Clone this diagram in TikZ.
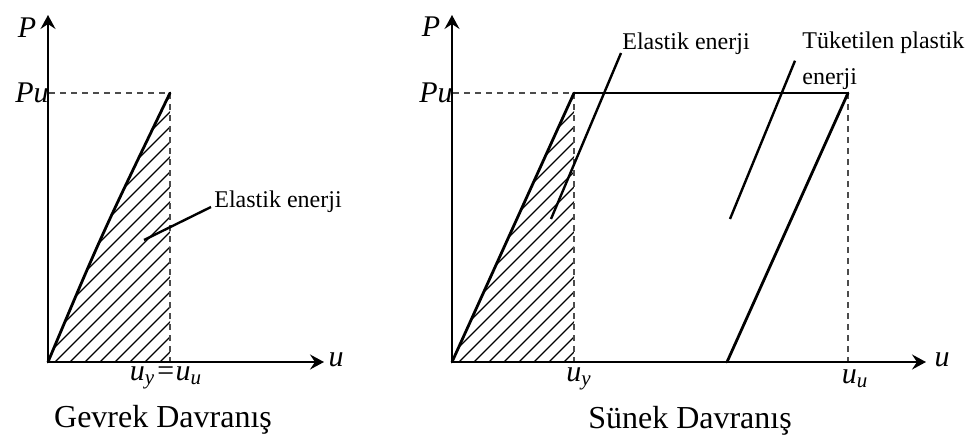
\documentclass[tikz,border=0pt]{standalone}
\usepackage{fontspec}
\setmainfont{Liberation Serif}
\usetikzlibrary{arrows.meta,positioning,calc}
\tikzset{
  axisln/.style={-{Stealth[length=7pt,width=7.5pt,inset=2.5pt]}, line width=1.4pt},
  loadln/.style={line width=1.4pt, line cap=round, line join=round},
  flatln/.style={line width=0.8pt},
  guideln/.style={dash pattern=on 3pt off 2.5pt, line width=0.6pt, black!70},
  hatchln/.style={line width=0.65pt},
  leaderln/.style={line width=1.2pt},
  lbl/.style={font=\fontsize{12}{14.5}\selectfont, inner sep=1.5pt},
  sym/.style={font=\fontsize{15}{18}\selectfont\itshape, inner sep=0pt},
  capt/.style={font=\fontsize{16}{19}\selectfont, inner sep=0pt},
}
% hatch the region #1, lines start from origin x #2
\newcommand{\hatchin}[2]{%
  \begin{scope}
    \clip #1;
    \foreach \k in {-18,...,9}
      \draw[hatchln] (#2+7+15*\k,362) -- ++(300,-300);
  \end{scope}
}

\begin{document}
\begin{tikzpicture}[x=0.5pt,y=-0.5pt]
  \useasboundingbox (0,0) rectangle (968,439);
  % Gevrek: brittle, load up to Pu then break
  \coordinate (o1) at (48,362);
  \coordinate (yt1) at (48,15);
  \coordinate (xt1) at (324,362);
  \coordinate (pk1) at (170,93);
  \coordinate (uu1) at (170,362);
  \hatchin{(o1) .. controls (101,236) .. (pk1) -- (uu1) -- cycle}{48}
  \node[sym, anchor=east] (pu1) at (49,93) {Pu};
  \draw[guideln] (pu1.east) -- (pk1) -- (uu1);
  \draw[loadln] (o1) .. controls (101,236) .. (pk1);
  \draw[axisln] (o1) -- (yt1);
  \draw[axisln] (o1) -- (xt1);
  \node[sym] (p1) at (27,28) {P};
  \node[sym] (u1) at (336,360) {u};
  \node[sym] (ly1) at (166,378) {u\textsubscript{y}=u\textsubscript{u}};
  \node[lbl, anchor=base west] (el1) at (211,207) {Elastik enerji};
  \coordinate (tip1) at (144,240);
  \draw[leaderln] (el1.base west) -- (tip1);
  \node[capt] (cap1) at (163,420) {Gevrek Davranış};

  % Sunek: ductile, plateau at Pu up to uu
  \coordinate (o2) at (452,362);
  \coordinate (yt2) at (452,15);
  \coordinate (xt2) at (926,362);
  \coordinate (pk2) at (574,93);
  \coordinate (uy2) at (574,362);
  \coordinate (pl2) at (848,93);
  \coordinate (uu2) at (848,362);
  \coordinate (ft2) at (727,362);
  \hatchin{(o2) -- (pk2) -- (uy2) -- cycle}{452}
  \node[sym, anchor=east] (pu2) at (453,93) {Pu};
  \draw[guideln] (pu2.east) -- (pk2) -- (uy2);
  \draw[guideln] (pl2) -- (uu2);
  \draw[loadln] (o2) -- (pk2);
  \draw[flatln] (pk2) -- (pl2);
  \draw[loadln] (pl2) -- (ft2);
  \draw[axisln] (o2) -- (yt2);
  \draw[axisln] (o2) -- (xt2);
  \node[sym] (p2) at (431,27) {P};
  \node[sym] (u2) at (942,360) {u};
  \node[sym] (ly2) at (579,379) {u\textsubscript{y}};
  \node[sym] (lu2) at (855,379) {u\textsubscript{u}};
  \node[lbl, anchor=base west] (el2) at (619,49) {Elastik enerji};
  \coordinate (tip2) at (551,219);
  \draw[leaderln] ($(el2.base west)+(2,4)$) -- (tip2);
  \node[lbl, anchor=base west] (tk1) at (799,48) {Tüketilen plastik};
  \node[lbl, anchor=base west] (tk2) at ([yshift=-18pt]tk1.base west) {enerji};
  \coordinate (tip3) at (730,219);
  \draw[leaderln] ($(tk2.north west)+(-4,-4)$) -- (tip3);
  \node[capt] (cap2) at (690,421) {Sünek Davranış};
\end{tikzpicture}
\end{document}
